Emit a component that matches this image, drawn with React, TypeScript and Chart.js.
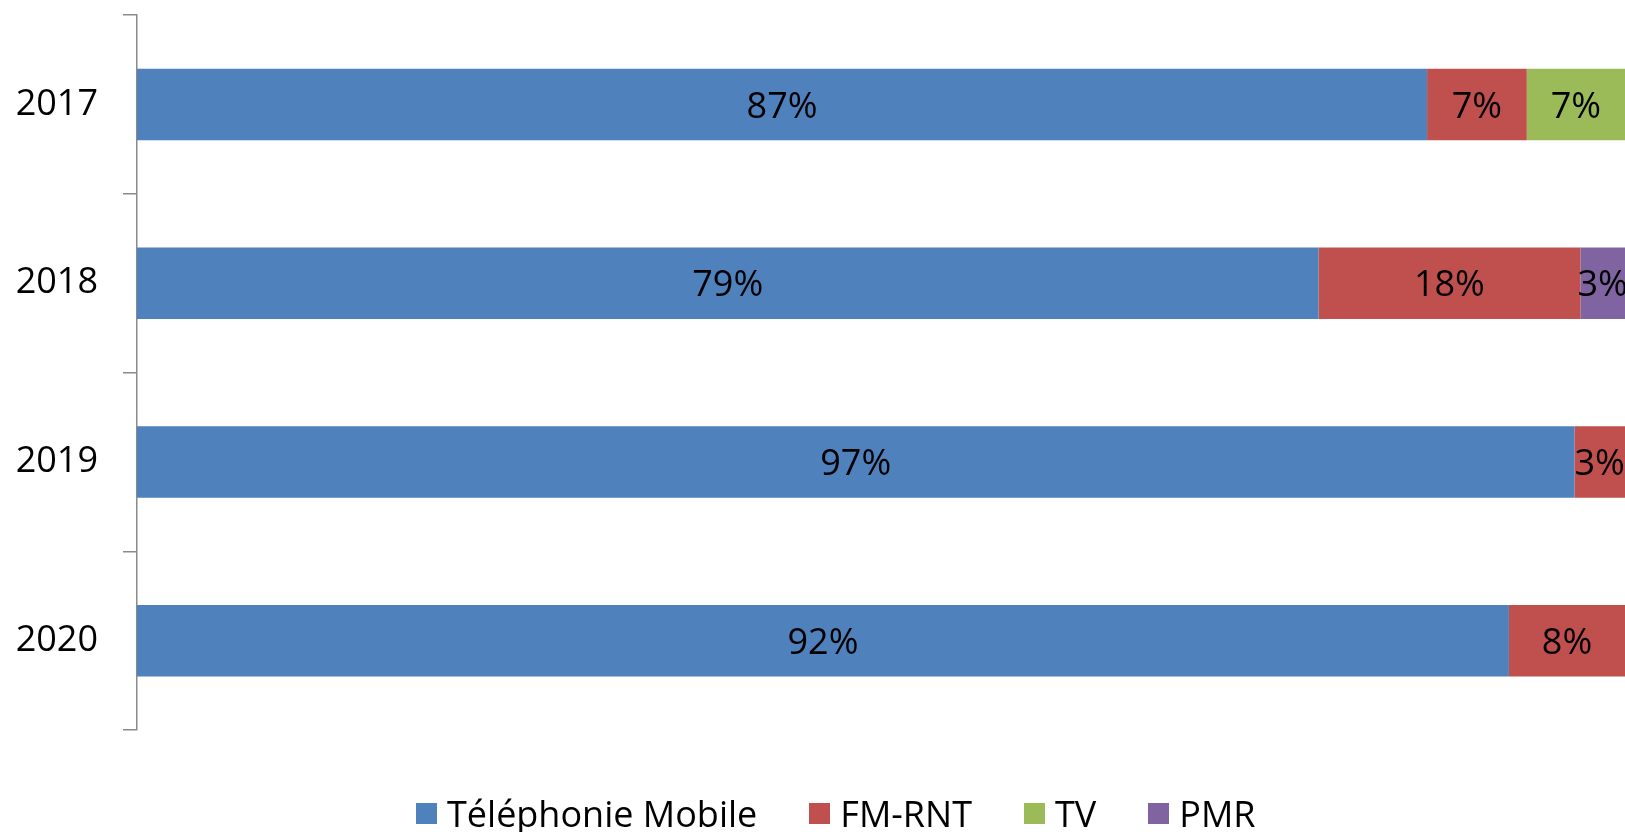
import React, { useEffect, useRef } from "react";
import { Chart, registerables } from "chart.js";

Chart.register(...registerables);

const years = ["2017", "2018", "2019", "2020"];
const mobile = [86.7, 79.4, 96.6, 92.2];
const fmRnt = [6.7, 17.6, 3.4, 7.8];
const tv = [6.6, 0, 0, 0];
const pmr = [0, 3.0, 0, 0];

const seriesNames = ["Téléphonie Mobile", "FM-RNT", "TV", "PMR"];
const seriesColors = ["#4F81BD", "#C0504D", "#9BBB59", "#8064A2"];

const FONT = "'Open Sans', 'Noto Sans', sans-serif";

const dataLabelPlugin = {
  id: "segLabels",
  afterDatasetsDraw(chart: any) {
    const ctx = chart.ctx;
    ctx.save();
    ctx.font = `36px ${FONT}`;
    ctx.fillStyle = "#000";
    ctx.textAlign = "center";
    ctx.textBaseline = "middle";
    chart.data.datasets.forEach((ds: any, di: number) => {
      const meta = chart.getDatasetMeta(di);
      meta.data.forEach((el: any, i: number) => {
        const v = ds.data[i];
        if (!v || v < 0.5) return;
        const { x, y, base } = el.getProps(["x", "y", "base"], true);
        const cx = (x + base) / 2;
        ctx.fillText(Math.round(v) + "%", cx, y + 3);
      });
    });
    ctx.restore();
  },
};

export default function App() {
  const ref = useRef<HTMLCanvasElement | null>(null);

  useEffect(() => {
    if (!ref.current) return;
    const values = [mobile, fmRnt, tv, pmr];
    const chart = new Chart(ref.current, {
      type: "bar",
      data: {
        labels: years,
        datasets: values.map((d, i) => ({
          label: seriesNames[i],
          data: d,
          backgroundColor: seriesColors[i],
          borderWidth: 0,
          barPercentage: 0.4,
          categoryPercentage: 1,
        })),
      },
      options: {
        indexAxis: "y",
        responsive: false,
        animation: false,
        devicePixelRatio: 1,
        layout: { padding: { top: 15, bottom: 102, left: 0, right: 0 } },
        plugins: {
          legend: { display: false },
          tooltip: { enabled: false },
        },
        scales: {
          x: {
            stacked: true,
            min: 0,
            max: 100,
            display: false,
          },
          y: {
            stacked: true,
            afterFit(scale: any) {
              scale.width = 137;
              scale.paddingTop = 0;
              scale.paddingBottom = 0;
            },
            grid: {
              display: true,
              drawOnChartArea: false,
              drawTicks: true,
              tickLength: 14,
              color: "#8a8a8a",
              lineWidth: 1.5,
              offset: true,
            },
            border: { display: true, color: "#8a8a8a", width: 1.5 },
            ticks: {
              padding: 25,
              color: "#000",
              font: { family: FONT, size: 36 },
            },
          },
        },
      } as any,
      plugins: [dataLabelPlugin],
    });
    return () => chart.destroy();
  }, []);

  return (
    <div
      style={{
        position: "fixed",
        left: 0,
        top: 0,
        width: 1625,
        height: 832,
        background: "#fff",
        overflow: "hidden",
      }}
    >
      <canvas ref={ref} width={1625} height={832} style={{ display: "block" }} />
      <div
        style={{
          position: "absolute",
          left: 416,
          top: 793,
          height: 40,
          display: "flex",
          alignItems: "center",
          gap: 52,
          fontFamily: FONT,
          fontSize: 36,
          color: "#000",
          whiteSpace: "nowrap",
        }}
      >
        {seriesNames.map((n, i) => (
          <div key={n} style={{ display: "flex", alignItems: "center" }}>
            <span
              style={{
                display: "inline-block",
                width: 21,
                height: 21,
                background: seriesColors[i],
                marginRight: 10,
              }}
            />
            <span>{n}</span>
          </div>
        ))}
      </div>
    </div>
  );
}
